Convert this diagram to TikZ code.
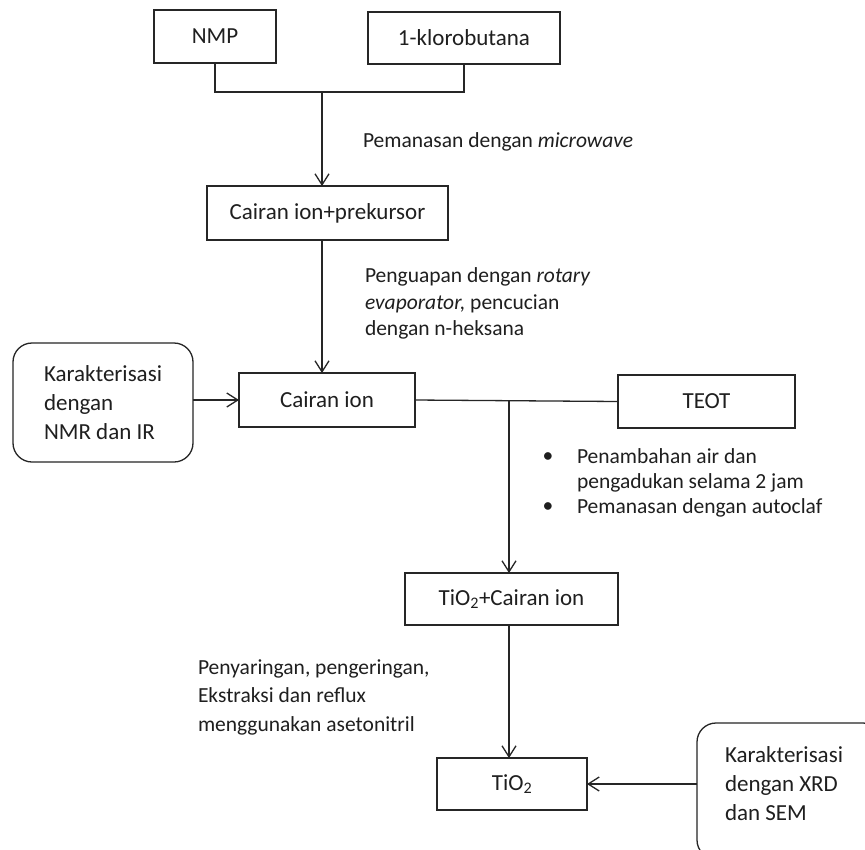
\documentclass[tikz,border=0pt]{standalone}
\usepackage{fontspec}
\setmainfont{Carlito}
\usetikzlibrary{arrows.meta}
\begin{document}
\begin{tikzpicture}[x=1pt,y=-1pt,
  every node/.style={inner sep=0pt, outer sep=0pt, text=black!88},
  boxtxt/.style={font=\fontsize{23}{29}\selectfont},
  annot/.style={font=\fontsize{21.5}{27}\selectfont, align=left, anchor=west},
  sqbox/.style={draw=black!85, line width=1.3pt, rectangle, boxtxt},
  rbox/.style={draw=black!85, line width=1.3pt, rectangle, rounded corners=19pt},
  conn/.style={draw=black!85, line width=1.3pt},
  arr/.style={conn, -{Straight Barb[length=11pt,width=14pt,line width=1.3pt]}}
]
\useasboundingbox (0,0) rectangle (865,849);
\fill[white] (0,0) rectangle (865,849);

% boxes
\node[sqbox, minimum width=122pt, minimum height=53pt] (nmp) at (215,36.5) {NMP};
\node[sqbox, minimum width=192pt, minimum height=52pt] (klo) at (464,38) {1-klorobutana};
\node[sqbox, minimum width=241pt, minimum height=54pt] (cip) at (327.5,213) {Cairan ion+prekursor};
\node[sqbox, minimum width=176pt, minimum height=54pt] (ci) at (327,400) {Cairan ion};
\node[sqbox, minimum width=177pt, minimum height=53pt] (teot) at (706.5,401.5) {TEOT};
\node[sqbox, minimum width=213pt, minimum height=52pt] (tci) at (511.5,599) {TiO\textsubscript{2}+Cairan ion};
\node[sqbox, minimum width=150pt, minimum height=52pt] (tio) at (512,784) {TiO\textsubscript{2}};

\node[rbox, boxtxt, align=left, minimum width=180pt, minimum height=119pt] (kl) at (103,402.5)
  {Karakterisasi\\dengan\\NMR dan IR};
\node[rbox, minimum width=185pt, minimum height=136pt, anchor=north west] (kr) at (697,723) {};
\node[boxtxt, align=left, anchor=west] (krt) at (725,783.5)
  {Karakterisasi\\dengan XRD\\dan SEM};

% junctions
\coordinate (j1) at (322,92);
\coordinate (j2) at (509,400);

% connectors
\draw[conn] (nmp.south) |- (j1) -| (klo.south);
\draw[arr] (j1) -- (j1 |- cip.north);
\draw[arr] (j1 |- cip.south) -- (j1 |- ci.north);
\draw[arr] (kl.east |- ci.west) -- (ci.west);
\draw[conn] (ci.east) -- (teot.west);
\draw[arr] (j2) -- (j2 |- tci.north);
\draw[arr] (j2 |- tci.south) -- (j2 |- tio.north);
\draw[arr] (kr.west |- tio.east) -- (tio.east);

% annotations
\node[annot] (t1) at (363,142) {Pemanasan dengan \textit{microwave}};
\node[annot, font=\fontsize{21.5}{26.5}\selectfont] (t2) at (365,303.5)
  {Penguapan dengan \textit{rotary}\\\textit{evaporator,} pencucian\\dengan n-heksana};
\node[annot, font=\fontsize{21.5}{25}\selectfont] (t3) at (577,470.5)
  {Penambahan air dan\\pengadukan selama 2 jam};
\node[annot] (t4) at (577,508) {Pemanasan dengan autoclaf};
\node[font=\fontsize{21.5}{25}\selectfont] (b1) at (548,458) {\textbullet};
\node[font=\fontsize{21.5}{25}\selectfont] (b2) at (548,508) {\textbullet};
\node[annot, font=\fontsize{21.5}{28.5}\selectfont] (t5) at (198,697)
  {Penyaringan, pengeringan,\\Ekstraksi dan reflux\\menggunakan asetonitril};
\end{tikzpicture}
\end{document}
